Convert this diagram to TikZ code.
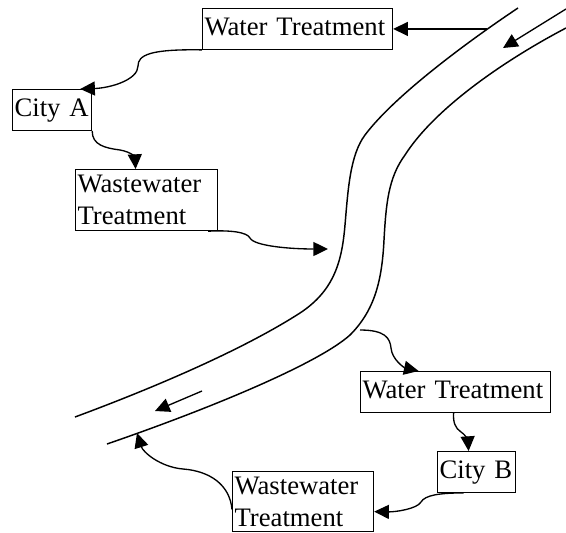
\documentclass[tikz,border=0pt]{standalone}
\usepackage{fontspec}
\setmainfont{Liberation Serif}
\usetikzlibrary{arrows.meta}

\begin{document}
\begin{tikzpicture}[x=.75pt,y=-.75pt,
    unit/.style={draw=black, line width=.9pt, anchor=north west,
      inner xsep=1.5pt, inner ysep=0pt, align=left,
      font=\fontsize{20}{23.8}\selectfont},
    oneline/.style={unit, text height=20pt, text depth=10.5pt},
    twoline/.style={unit, minimum height=45.75pt},
    flow/.style={draw=black, line width=1pt,
      -{Triangle[length=11pt,width=10.5pt]}},
    bank/.style={draw=black, line width=1.1pt}]
  \useasboundingbox (0,0) rectangle (566,532);

  % river banks and current
  \draw[bank] (518,8) .. controls (470,40) and (395,95) .. (365,135)
    .. controls (350,155) and (348,190) .. (345,225)
    .. controls (342,260) and (335,290) .. (300,313)
    .. controls (255,342) and (180,378) .. (75,417);
  \draw[bank] (566,28) .. controls (505,60) and (435,108) .. (405,155)
    .. controls (388,178) and (386,205) .. (384,240)
    .. controls (382,280) and (375,310) .. (350,335)
    .. controls (320,362) and (220,405) .. (107,444);
  \draw[flow] (566,9) -- (503,48);
  \draw[flow] (202,391) -- (155,411);

  \node[oneline, text width=139.5pt] (wtA) at (202,8) {Water Treatment};
  \node[oneline, text width=56.25pt] (cityA) at (12,89) {City A};
  \node[twoline, text width=103.5pt] (wwA) at (75,169) {Wastewater\\Treatment};
  \node[oneline, text width=139.5pt] (wtB) at (360,371) {Water Treatment};
  \node[oneline, text width=55.5pt] (cityB) at (437,451) {City B};
  \node[twoline, text width=102.75pt, minimum height=45pt] (wwB) at (232,471)
    {Wastewater\\Treatment};

  \coordinate (intakeA) at (487,29);
  \coordinate (outfallA) at (328,249);
  \coordinate (intakeB) at (360,330);
  \coordinate (outfallB) at (137,433);

  % city A
  \draw[flow] (intakeA |- wtA.east) -- (wtA.east);
  \draw[flow] (wtA.south west) .. controls (150,49) and (138,55) .. (138,66)
    .. controls (138,80) and (110,88) .. ([shift={(-12,0)}]cityA.north east);
  \draw[flow] (cityA.south east) .. controls (92,145) and (105,148) .. (120,150)
    .. controls (132,152) and (135,158) .. ([shift={(-11,0)}]wwA.north);
  \draw[flow] ([shift={(-10,0)}]wwA.south east) .. controls (230,230) and (247,232) .. (250,238)
    .. controls (254,246) and (290,249) .. (outfallA);

  % city B
  \draw[flow] (intakeB) .. controls (385,330) and (390,338) .. (391,348)
    .. controls (392,360) and (405,368) .. ([shift={(-37,0)}]wtB.north);
  \draw[flow] ([shift={(-2,0)}]wtB.south) .. controls (453,422) and (455,428) .. (461,432)
    .. controls (467,436) and (468,442) .. ([shift={(-8,0)}]cityB.north);
  \draw[flow] ([shift={(-13,0)}]cityB.south) .. controls (440,493) and (425,495) .. (421,502)
    .. controls (417,509) and (395,512) .. ([shift={(0,10)}]wwB.east);
  \draw[flow] ([shift={(0,8)}]wwB.west) .. controls (230,485) and (210,471) .. (183,469)
    .. controls (160,467) and (143,452) .. (outfallB);
\end{tikzpicture}
\end{document}
